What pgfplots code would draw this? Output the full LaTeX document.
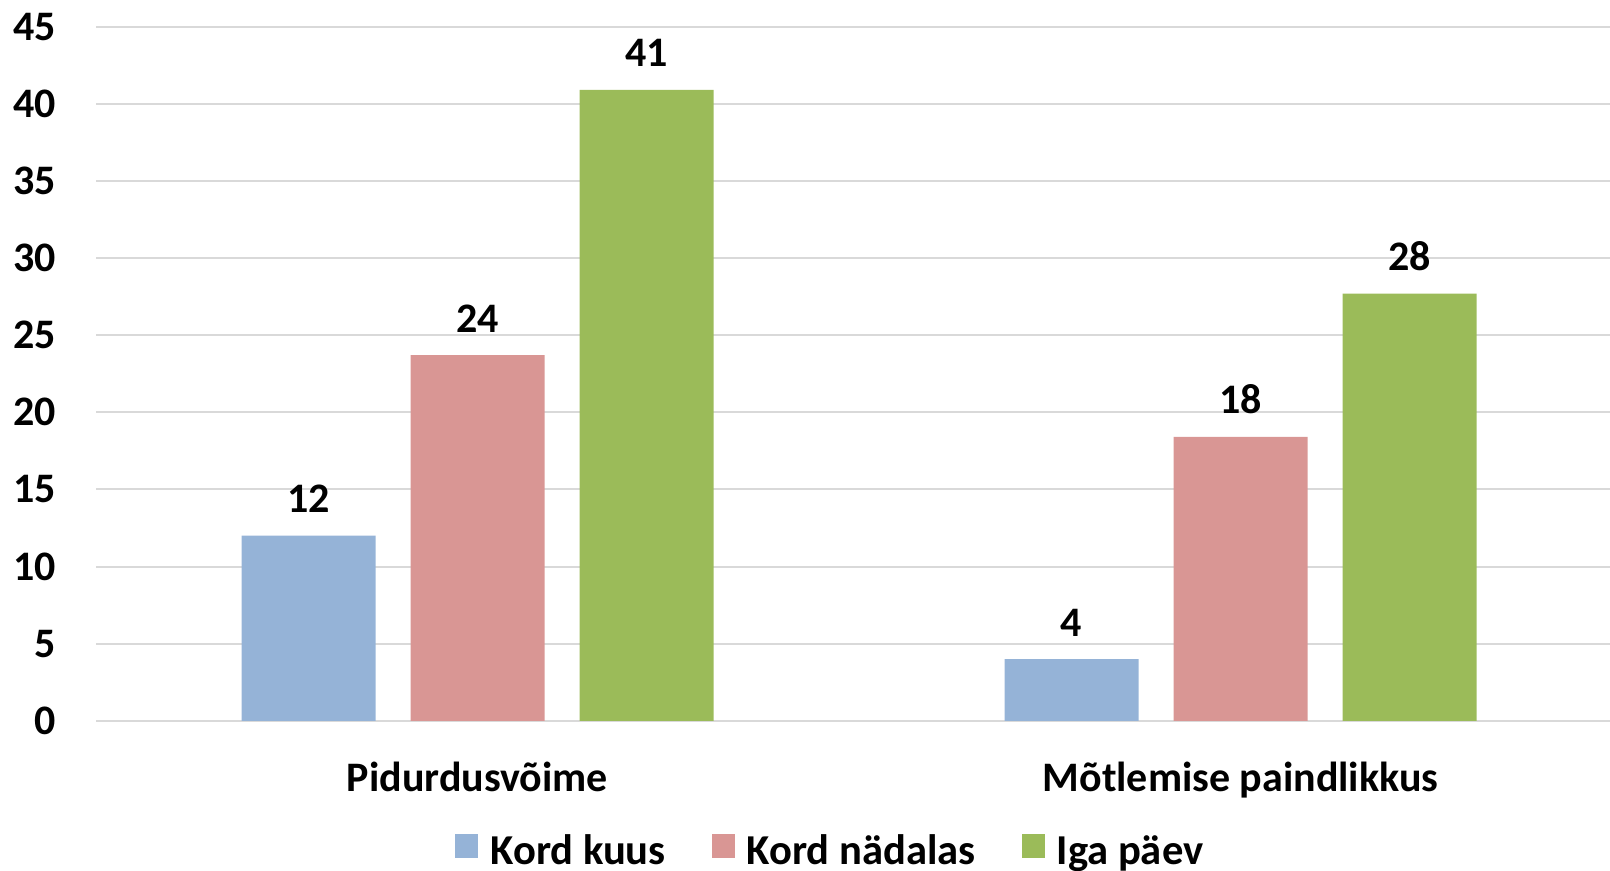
\documentclass[border=0pt]{standalone}
\usepackage{fontspec}
\setmainfont{Carlito}
\usepackage{pgfplots}
\pgfplotsset{compat=1.18}
\definecolor{cblue}{HTML}{95B3D7}
\definecolor{cpink}{HTML}{D99694}
\definecolor{cgreen}{HTML}{9BBB59}
\definecolor{cgrid}{HTML}{D9D9D9}
\begin{document}
\begin{tikzpicture}
\begin{axis}[
  at={(48pt,75.1pt)}, anchor=south west,
  scale only axis, width=763pt, height=347.05pt,
  ybar=17.5pt, bar width=67pt,
  xmin=-0.5, xmax=1.5, ymin=0, ymax=45,
  xtick={0,1}, xticklabels={Pidurdusvõime, Mõtlemise paindlikkus},
  ytick={0,5,...,45},
  axis line style={draw=none},
  major tick length=0pt,
  ymajorgrids, grid style={cgrid, line width=1pt},
  /pgf/number format/assume math mode=true,
  tick label style={font=\fontsize{21}{25}\selectfont\bfseries},
  yticklabel style={anchor=east, inner sep=0pt, xshift=-20pt},
  xticklabel style={anchor=base, inner sep=0pt, yshift=-35.5pt},
  nodes near coords={\pgfmathprintnumber[fixed,precision=0]{\pgfplotspointmeta}},
  nodes near coords style={font=\fontsize{21}{25}\selectfont\bfseries, anchor=south, inner sep=0pt, yshift=11.3pt, text=black},
  legend columns=3,
  legend image code/.code={\fill[#1] (0pt,-3.5pt) rectangle (11.5pt,8.8pt);},
  legend style={at={(0.2353,-0.187)}, anchor=west, draw=none, fill=none, inner sep=0pt,
    font=\fontsize{21.3}{25}\selectfont\bfseries,
    nodes={inner sep=0pt},
    /tikz/every odd column/.append style={column sep=6pt},
    /tikz/every even column/.append style={column sep=23pt}},
]
\addplot[fill=cblue, draw=none] coordinates {(0,12) (1,4.0)};
\addplot[fill=cpink, draw=none] coordinates {(0,23.7) (1,18.4)};
\addplot[fill=cgreen, draw=none] coordinates {(0,40.9) (1,27.7)};
\legend{Kord kuus, Kord nädalas, Iga päev}
\end{axis}
\pgfresetboundingbox
\useasboundingbox (0,0) rectangle (805pt,435.5pt);
\end{tikzpicture}
\end{document}
